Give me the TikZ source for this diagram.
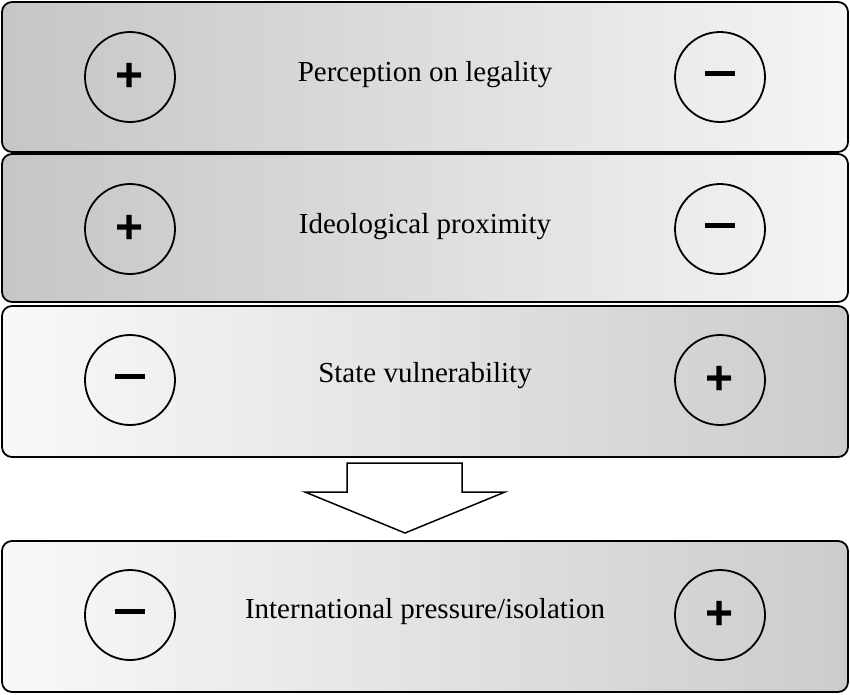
\documentclass[tikz,border=0pt]{standalone}
\usepackage{fontspec}
\setmainfont{Liberation Serif}
\newfontfamily\signfont{Liberation Sans}
\newcommand{\mysignminus}{\rule[7pt]{30pt}{5pt}}
\begin{document}
\begin{tikzpicture}[x=1pt,y=-1pt,
  bar/.style={draw=black,line width=1.8pt,rounded corners=10pt},
  darkleft/.style={bar,left color=gray!45,right color=gray!8},
  darkright/.style={bar,left color=gray!5,right color=gray!40},
  sign/.style={circle,draw=black,line width=1.8pt,minimum size=90pt,inner sep=0pt,font=\signfont\bfseries\fontsize{48}{48}\selectfont,fill=none},
  lab/.style={font=\fontsize{29}{32}\selectfont}]
\useasboundingbox (0,0) rectangle (850,694);
\draw[darkleft] (2,2) rectangle (848,152);
\draw[darkleft] (2,154) rectangle (848,302);
\draw[darkright] (2,306) rectangle (848,457);
\draw[darkright] (2,541) rectangle (848,692);
\node[sign] (a1) at (130,77) {+};
\node[sign] (a2) at (720,77) {\mysignminus};
\node[lab] (at) at (425,75) {Perception on legality};
\node[sign] (b1) at (130,229) {+};
\node[sign] (b2) at (720,229) {\mysignminus};
\node[lab] (bt) at (425,227) {Ideological proximity};
\node[sign] (c1) at (130,380) {\mysignminus};
\node[sign] (c2) at (720,380) {+};
\node[lab] (ct) at (425,376) {State vulnerability};
\node[sign] (d1) at (130,615) {\mysignminus};
\node[sign] (d2) at (720,615) {+};
\node[lab] (dt) at (425,612) {International pressure/isolation};
\draw[line width=1.5pt,fill=white] (347,463) -- (462,463) -- (462,492) -- (505,492) -- (405,533) -- (305,492) -- (347,492) -- cycle;
\end{tikzpicture}
\end{document}
